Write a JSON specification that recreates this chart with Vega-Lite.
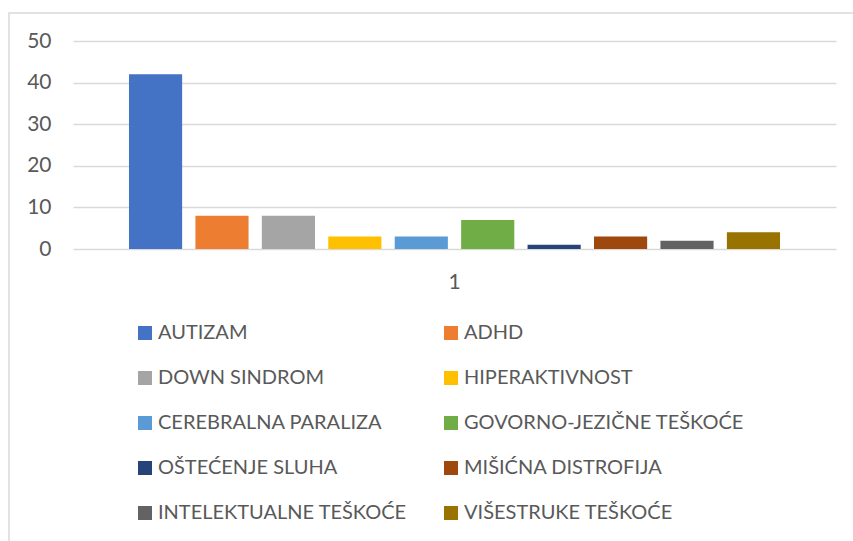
{
  "$schema": "https://vega.github.io/schema/vega-lite/v6.json",
  "width": 846,
  "height": 530,
  "autosize": {"type": "none"},
  "padding": {"left": 9, "top": 13, "right": -2, "bottom": -2},
  "background": "white",
  "config": {
    "view": {"stroke": "#d9d9d9", "strokeWidth": 1.5},
    "font": "Lato",
    "axis": {"labelFont": "Lato", "labelColor": "#595959", "labelFontSize": 21},
    "legend": {"labelFont": "Lato", "labelColor": "#595959", "labelFontSize": 20}
  },
  "data": {
    "values": [
      {"cat": "1", "series": "AUTIZAM", "value": 42},
      {"cat": "1", "series": "ADHD", "value": 8},
      {"cat": "1", "series": "DOWN SINDROM", "value": 8},
      {"cat": "1", "series": "HIPERAKTIVNOST", "value": 3},
      {"cat": "1", "series": "CEREBRALNA PARALIZA", "value": 3},
      {"cat": "1", "series": "GOVORNO-JEZIČNE TEŠKOĆE", "value": 7},
      {"cat": "1", "series": "OŠTEĆENJE SLUHA", "value": 1},
      {"cat": "1", "series": "MIŠIĆNA DISTROFIJA", "value": 3},
      {"cat": "1", "series": "INTELEKTUALNE TEŠKOĆE", "value": 2},
      {"cat": "1", "series": "VIŠESTRUKE TEŠKOĆE", "value": 4}
    ]
  },
  "mark": {"type": "bar"},
  "encoding": {
    "x": {
      "field": "cat",
      "type": "nominal",
      "scale": {"range": [64, 827], "paddingInner": 0, "paddingOuter": 0.086},
      "axis": {"title": null, "labelAngle": 0, "ticks": false, "domain": false, "labelPadding": 22, "offset": -294}
    },
    "xOffset": {
      "field": "series",
      "type": "nominal",
      "sort": null,
      "scale": {"paddingInner": 0.2, "paddingOuter": 0}
    },
    "y": {
      "field": "value",
      "type": "quantitative",
      "scale": {"domain": [0, 50], "range": [236, 28]},
      "axis": {
        "title": null,
        "values": [0, 10, 20, 30, 40, 50],
        "ticks": false,
        "domain": false,
        "gridColor": "#d9d9d9",
        "gridWidth": 1.5,
        "labelPadding": 22,
        "offset": -64
      }
    },
    "color": {
      "field": "series",
      "type": "nominal",
      "scale": {
        "domain": ["AUTIZAM", "ADHD", "DOWN SINDROM", "HIPERAKTIVNOST", "CEREBRALNA PARALIZA", "GOVORNO-JEZIČNE TEŠKOĆE", "OŠTEĆENJE SLUHA", "MIŠIĆNA DISTROFIJA", "INTELEKTUALNE TEŠKOĆE", "VIŠESTRUKE TEŠKOĆE"],
        "range": ["#4472C4", "#ED7D31", "#A5A5A5", "#FFC000", "#5B9BD5", "#70AD47", "#264478", "#9E480E", "#636363", "#997300"]
      },
      "legend": {
        "title": null,
        "orient": "none",
        "direction": "horizontal",
        "legendX": 126,
        "legendY": 310,
        "columns": 2,
        "symbolType": "square",
        "symbolSize": 196,
        "symbolStrokeWidth": 0,
        "labelOffset": 3,
        "rowPadding": 25,
        "columnPadding": 34,
        "labelLimit": 400
      }
    }
  }
}
